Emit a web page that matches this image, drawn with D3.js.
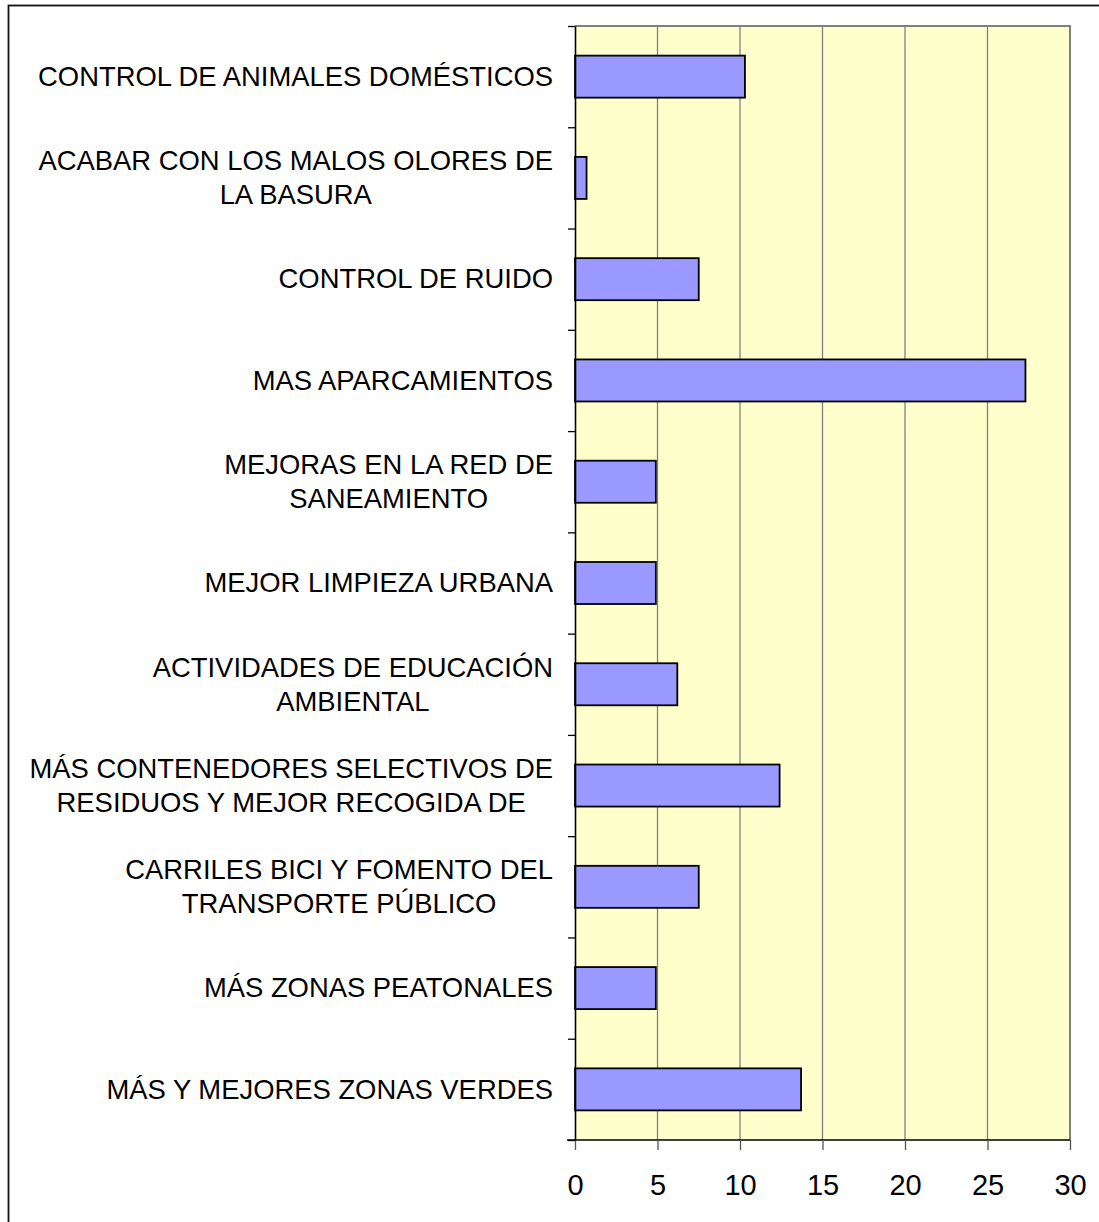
<!DOCTYPE html>
<html>
<head>
<meta charset="utf-8">
<script src="https://cdn.jsdelivr.net/npm/d3@7"></script>
<style>
  html, body { margin: 0; padding: 0; background: #fff; }
  svg { display: block; }
  text { font-family: "Liberation Sans", Arial, sans-serif; fill: #000; }
</style>
</head>
<body>
<script>
// Categories, top to bottom; "\n" splits a label over two lines
const categories = [
  "CONTROL DE ANIMALES DOMÉSTICOS",
  "ACABAR CON LOS MALOS OLORES DE\nLA BASURA",
  "CONTROL DE RUIDO",
  "MAS APARCAMIENTOS",
  "MEJORAS EN LA RED DE\nSANEAMIENTO",
  "MEJOR LIMPIEZA URBANA",
  "ACTIVIDADES DE EDUCACIÓN\nAMBIENTAL",
  "MÁS CONTENEDORES SELECTIVOS DE\nRESIDUOS Y MEJOR RECOGIDA DE",
  "CARRILES BICI Y FOMENTO DEL\nTRANSPORTE PÚBLICO",
  "MÁS ZONAS PEATONALES",
  "MÁS Y MEJORES ZONAS VERDES"
];
const values = [10.3, 0.7, 7.5, 27.3, 4.9, 4.9, 6.2, 12.4, 7.5, 4.9, 13.7];
const xTicks = [0, 5, 10, 15, 20, 25, 30];

const W = 1099, H = 1222;
const plot = { left: 575, right: 1070, top: 26, bottom: 1140 };
const labelSize = 27.4;
const tickSize = 29;

const svg = d3.select("body").append("svg")
  .attr("width", W).attr("height", H);

// Outer chart frame
svg.append("rect")
  .attr("x", 8.5).attr("y", 5.5)
  .attr("width", W + 10).attr("height", H + 10)
  .attr("fill", "#fff")
  .attr("stroke", "#111").attr("stroke-width", 1.8);

const x = d3.scaleLinear().domain([0, 30]).range([plot.left, plot.right]);
const y = d3.scaleBand().domain(categories).range([plot.top, plot.bottom]).padding(0);
const yEdges = d3.scaleLinear().domain([0, categories.length]).range([plot.top, plot.bottom]);

// Plot background
svg.append("rect")
  .attr("x", plot.left).attr("y", plot.top)
  .attr("width", plot.right - plot.left).attr("height", plot.bottom - plot.top)
  .attr("fill", "#FFFFCC");

// Vertical gridlines
svg.append("g")
  .selectAll("line")
  .data(xTicks.filter(t => t > 0 && t < 30))
  .join("line")
  .attr("x1", d => x(d)).attr("x2", d => x(d))
  .attr("y1", plot.top).attr("y2", plot.bottom)
  .attr("stroke", "#808080").attr("stroke-width", 1.3);

// Top and right edge of the plot area
svg.append("path")
  .attr("d", `M${plot.left},${plot.top}H${plot.right}V${plot.bottom}`)
  .attr("fill", "none")
  .attr("stroke", "#808080").attr("stroke-width", 2);

// Bars
const barH = y.bandwidth() * 0.415;
svg.append("g")
  .selectAll("rect")
  .data(categories.map((c, i) => ({ c, v: values[i] })))
  .join("rect")
  .attr("x", x(0))
  .attr("y", d => y(d.c) + (y.bandwidth() - barH) / 2)
  .attr("width", d => x(d.v) - x(0))
  .attr("height", barH)
  .attr("fill", "#9999FF")
  .attr("stroke", "#000").attr("stroke-width", 1.8);

// Bottom axis
const xAxis = svg.append("g")
  .attr("transform", `translate(0,${plot.bottom})`)
  .call(d3.axisBottom(x).tickValues(xTicks).tickSize(10).tickPadding(24).tickSizeOuter(0));
xAxis.select(".domain").attr("stroke", "#000").attr("stroke-width", 1.6)
  .attr("d", `M${plot.left - 8},0H${plot.right}`);
xAxis.selectAll(".tick line").attr("stroke", "#555").attr("stroke-width", 1.3);
xAxis.selectAll(".tick text")
  .style("font-family", "'Liberation Sans', Arial, sans-serif")
  .style("font-size", tickSize + "px").attr("fill", "#000");

// Left axis with ticks between categories
const yAxis = svg.append("g")
  .attr("transform", `translate(${plot.left},0)`)
  .call(d3.axisLeft(yEdges).ticks(categories.length).tickFormat("").tickSize(7).tickSizeOuter(0));
yAxis.select(".domain").attr("stroke", "#000").attr("stroke-width", 1.6);
yAxis.selectAll(".tick line").attr("stroke", "#000").attr("stroke-width", 1.3);

// Category labels: block right-aligned, lines centred within the block
const labelRight = 553;
const lineH = 34;
categories.forEach(c => {
  const lines = c.split("\n");
  const g = svg.append("g");
  const cy = y(c) + y.bandwidth() / 2;
  const t = g.selectAll("text")
    .data(lines)
    .join("text")
    .attr("text-anchor", "middle")
    .style("font-size", labelSize + "px")
    .attr("y", (d, i) => cy + (i - (lines.length - 1) / 2) * lineH)
    .attr("dy", "0.34em")
    .text(d => d);
  const maxW = d3.max(t.nodes(), n => n.getComputedTextLength());
  t.attr("x", labelRight - maxW / 2);
});
</script>
</body>
</html>
